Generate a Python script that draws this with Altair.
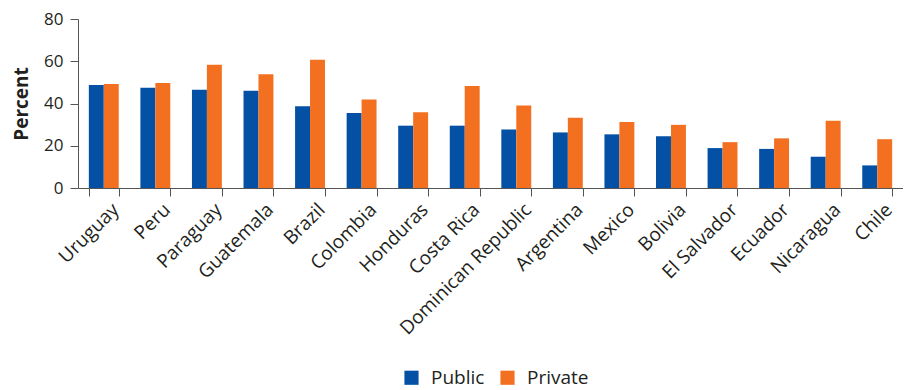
import altair as alt
import pandas as pd

countries = ["Uruguay", "Peru", "Paraguay", "Guatemala", "Brazil", "Colombia",
             "Honduras", "Costa Rica", "Dominican Republic", "Argentina", "Mexico",
             "Bolivia", "El Salvador", "Ecuador", "Nicaragua", "Chile"]
public = [48.8, 47.4, 46.5, 46.0, 38.7, 35.5, 29.5, 29.5, 27.7, 26.3, 25.4, 24.5, 18.9, 18.5, 14.8, 10.7]
private = [49.2, 49.7, 58.4, 53.8, 60.7, 41.9, 35.9, 48.3, 39.1, 33.2, 31.3, 29.9, 21.7, 23.5, 31.8, 23.1]
series = ["Public", "Private"]
colors = ["#0450a4", "#f37021"]

rows = []
for i, c in enumerate(countries):
    rows.append({"country": c, "sector": "Public", "value": public[i]})
    rows.append({"country": c, "sector": "Private", "value": private[i]})
df = pd.DataFrame(rows)

FONT = "Open Sans"
TXT = "#231f20"

chart = alt.Chart(df).mark_bar().encode(
    x=alt.X("country:N", sort=countries, title=None,
            scale=alt.Scale(paddingInner=0.42, paddingOuter=0.21),
            axis=alt.Axis(labelAngle=-45, tickBand="extent", tickSize=8,
                          labelFontSize=19, labelFont=FONT, labelColor=TXT,
                          domainColor="#555555", tickColor="#555555",
                          labelPadding=4, labelOffset=5)),
    xOffset=alt.XOffset("sector:N", sort=series, scale=alt.Scale(paddingInner=0, paddingOuter=0)),
    y=alt.Y("value:Q", title="Percent",
            scale=alt.Scale(domain=[0, 80]),
            axis=alt.Axis(values=[0, 20, 40, 60, 80], grid=False, tickSize=8,
                          labelFontSize=17, labelFont=FONT, labelColor=TXT,
                          titleFont=FONT, titleFontSize=19, titleFontWeight="bold",
                          titleColor=TXT, titlePadding=12, labelPadding=7,
                          domainColor="#555555", tickColor="#555555")),
    color=alt.Color("sector:N", sort=series,
                    scale=alt.Scale(domain=series, range=colors),
                    legend=alt.Legend(title=None, orient="none", direction="horizontal",
                                      legendX=324, legendY=349, symbolType="square",
                                      symbolSize=200, symbolStrokeWidth=0,
                                      labelFontSize=19, labelFont=FONT, labelColor=TXT,
                                      columnPadding=13, labelOffset=10)),
).properties(
    width=825, height=169,
    autosize=alt.AutoSizeParams(type="none"),
    padding={"left": 70, "top": 11, "right": 0, "bottom": 215},
).configure_view(stroke=None)

chart.save("out.html", embed_options={"renderer": "svg", "actions": False})
